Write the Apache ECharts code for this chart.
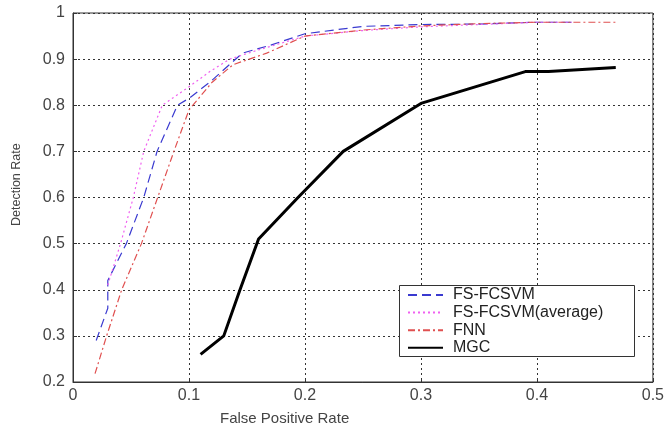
<!DOCTYPE html>
<html><head><meta charset="utf-8">
<script src="https://cdn.jsdelivr.net/npm/echarts@6/dist/echarts.min.js"></script>
<style>html,body{margin:0;padding:0;background:#fff}#c{width:667px;height:427px}</style>
</head><body><div id="c"></div>
<script>
var xTicks = [0, 0.1, 0.2, 0.3, 0.4, 0.5];
var yTicks = [0.2, 0.3, 0.4, 0.5, 0.6, 0.7, 0.8, 0.9, 1];
var seriesNames = ['FS-FCSVM', 'FS-FCSVM(average)', 'FNN', 'MGC'];

var fsX = [0.02, 0.03, 0.03, 0.046, 0.061, 0.0725, 0.09, 0.1, 0.118, 0.146, 0.17, 0.2, 0.25, 0.3, 0.35, 0.4, 0.43];
var fsY = [0.29, 0.36, 0.42, 0.5, 0.6, 0.7, 0.8, 0.815, 0.85, 0.913, 0.93, 0.955, 0.971, 0.975, 0.976, 0.98, 0.98];

var avgX = [0.03, 0.041, 0.052, 0.061, 0.077, 0.1, 0.118, 0.135, 0.16, 0.2, 0.25, 0.3, 0.35, 0.4, 0.43];
var avgY = [0.41, 0.5, 0.6, 0.7, 0.8, 0.84, 0.873, 0.9, 0.92, 0.95, 0.962, 0.97, 0.975, 0.98, 0.98];

var fnnX = [0.019, 0.029, 0.042, 0.059, 0.073, 0.087, 0.1, 0.12, 0.138, 0.167, 0.2, 0.25, 0.3, 0.35, 0.4, 0.47];
var fnnY = [0.218, 0.3, 0.4, 0.5, 0.6, 0.7, 0.79, 0.85, 0.888, 0.913, 0.95, 0.963, 0.972, 0.977, 0.98, 0.98];

var mgcX = [0.11, 0.13, 0.144, 0.16, 0.194, 0.233, 0.3, 0.39, 0.41, 0.468];
var mgcY = [0.26, 0.3, 0.4, 0.51, 0.6, 0.7, 0.804, 0.873, 0.873, 0.882];

function pairs(xs, ys) { return xs.map(function (x, i) { return [x, ys[i]]; }); }

var chart = echarts.init(document.getElementById('c'), null, {renderer: 'canvas'});
var font = 'Liberation Sans, Arial, sans-serif';
var lblColor = '#444';
var gridLine = {show: true, lineStyle: {color: '#333', width: 1, type: [2, 3]}};

function mk(name, data, color, width, type) {
  return {name: name, type: 'line', data: data, symbol: 'none', smooth: false,
    lineStyle: {color: color, width: width, type: type}, itemStyle: {color: color},
    emphasis: {disabled: true}, animation: false};
}

chart.setOption({
  animation: false,
  grid: {left: 73, top: 13, right: 13, bottom: 45, show: true, borderColor: '#333', borderWidth: 1},
  xAxis: {
    type: 'value', min: xTicks[0], max: xTicks[xTicks.length - 1], interval: 0.1,
    axisLine: {show: true, lineStyle: {color: '#333'}},
    axisTick: {show: true, inside: true, length: 4, lineStyle: {color: '#333'}},
    splitLine: gridLine,
    axisLabel: {color: lblColor, fontSize: 16, fontFamily: font, margin: 6,
      formatter: function (v) { return String(Math.round(v * 10) / 10); }}
  },
  yAxis: {
    type: 'value', min: yTicks[0], max: yTicks[yTicks.length - 1], interval: 0.1,
    axisLine: {show: true, lineStyle: {color: '#333'}},
    axisTick: {show: true, inside: true, length: 4, lineStyle: {color: '#333'}},
    splitLine: gridLine,
    axisLabel: {color: lblColor, fontSize: 16, fontFamily: font, margin: 8,
      formatter: function (v) { return String(Math.round(v * 10) / 10); }}
  },
  legend: {
    orient: 'vertical', left: 407, top: 287, itemWidth: 35, itemHeight: 14, itemGap: 1.6,
    data: seriesNames, selectedMode: false, padding: 0, z: 20,
    itemStyle: {opacity: 0},
    textStyle: {color: '#222', fontSize: 16, fontFamily: font, lineHeight: 14, padding: [0, 0, 0, 5]}
  },
  graphic: [
    {type: 'rect', left: 399, top: 285, shape: {width: 235, height: 71}, z: 15,
      style: {fill: '#fff', stroke: '#333', lineWidth: 1}},
    {type: 'text', left: 220, top: 411, z: 10,
      style: {text: 'False Positive Rate', fill: '#444', font: '15px Liberation Sans, Arial, sans-serif'}},
    {type: 'text', x: 10, y: 226, rotation: Math.PI / 2, z: 10,
      style: {text: 'Detection Rate', fill: '#444', font: '12.5px Liberation Sans, Arial, sans-serif'}}
  ],
  series: [
    mk(seriesNames[0], pairs(fsX, fsY), '#3a3ad0', 1.2, [9, 5]),
    mk(seriesNames[1], pairs(avgX, avgY), '#f060f0', 1.2, [2, 3]),
    mk(seriesNames[2], pairs(fnnX, fnnY), '#e05050', 1.2, [7, 3, 2, 3]),
    mk(seriesNames[3], pairs(mgcX, mgcY), '#000', 3, 'solid')
  ]
});
</script></body></html>
